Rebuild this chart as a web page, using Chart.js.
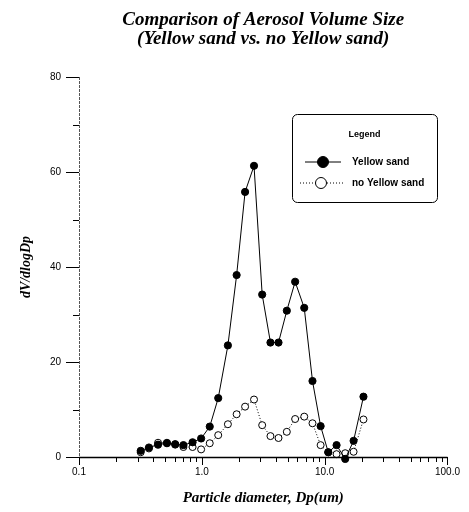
<!DOCTYPE html>
<html>
<head>
<meta charset="utf-8">
<script src="https://cdn.jsdelivr.net/npm/chart.js@4.4.1/dist/chart.umd.min.js"></script>
<style>
  html, body { margin: 0; padding: 0; background: #fff; }
  #wrap { width: 469px; height: 512px; }
</style>
</head>
<body>
<div id="wrap"><canvas id="aerosolChart" width="469" height="512"></canvas></div>
<script>
// Particle diameter (um) and dV/dlogDp
const diameters = [0.318, 0.371, 0.440, 0.520, 0.607, 0.708, 0.841, 0.987, 1.16, 1.36, 1.63, 1.92, 2.25, 2.66,
                   3.10, 3.62, 4.21, 4.92, 5.75, 6.82, 7.96, 9.27, 10.7, 12.5, 14.7, 17.2, 20.7];
const yellowSand = [1.3, 2.0, 2.6, 2.9, 2.7, 2.5, 3.1, 3.9, 6.4, 12.4, 23.5, 38.3, 55.8, 61.3,
                    34.2, 24.1, 24.1, 30.8, 36.9, 31.4, 16.0, 6.5, 1.0, 2.5, -0.4, 3.4, 12.7];
const noYellowSand = [1.0, 1.8, 3.0, 3.0, 2.6, 2.1, 2.1, 1.6, 2.9, 4.6, 6.9, 9.0, 10.6, 12.1,
                      6.7, 4.4, 4.0, 5.3, 8.0, 8.5, 7.1, 2.5, 1.0, 0.6, 0.8, 1.1, 7.9];
const yTicks = [0, 20, 40, 60, 80];
const yMinorTicks = [10, 30, 50, 70];
const xMajorTicks = [0.1, 1, 10, 100];
const xTickLabels = ['0.1', '1.0', '10.0', '100.0'];

const serif = '"Liberation Serif", "Times New Roman", serif';
const sans = '"Liberation Sans", Arial, sans-serif';

// ticks menores del eje log: 0.2..0.9, 2..9, 20..90
const xMinorTicks = [];
[0.1, 1, 10].forEach(d => { for (let k = 2; k <= 9; k++) xMinorTicks.push(+(d * k).toFixed(2)); });

// Ejes y marcas dibujados a mano (longitudes distintas)
const axisTicksPlugin = {
    id: 'axisTicks',
    afterDatasetsDraw(chart) {
        const {ctx, chartArea, scales} = chart;
        const xs = scales.x, ys = scales.y;
        ctx.save();
        ctx.strokeStyle = '#000';
        // eje x
        ctx.lineWidth = 1.5;
        ctx.beginPath();
        ctx.moveTo(chartArea.left, chartArea.bottom + 0.5);
        ctx.lineTo(chartArea.right, chartArea.bottom + 0.5);
        ctx.stroke();
        ctx.lineWidth = 1;
        xMajorTicks.forEach(v => {
            const px = Math.round(xs.getPixelForValue(v)) + 0.5;
            ctx.beginPath(); ctx.moveTo(px, chartArea.bottom); ctx.lineTo(px, chartArea.bottom + 8); ctx.stroke();
        });
        xMinorTicks.forEach(v => {
            const px = Math.round(xs.getPixelForValue(v)) + 0.5;
            ctx.beginPath(); ctx.moveTo(px, chartArea.bottom); ctx.lineTo(px, chartArea.bottom + 5); ctx.stroke();
        });
        // eje y (punteado, como en el escaneo)
        ctx.strokeStyle = '#555';
        ctx.setLineDash([3, 1]);
        ctx.beginPath();
        ctx.moveTo(chartArea.left + 0.5, chartArea.top);
        ctx.lineTo(chartArea.left + 0.5, chartArea.bottom);
        ctx.stroke();
        ctx.setLineDash([]);
        ctx.strokeStyle = '#000';
        yTicks.forEach(v => {
            const py = Math.round(ys.getPixelForValue(v)) + 0.5;
            ctx.beginPath(); ctx.moveTo(chartArea.left - 13, py); ctx.lineTo(chartArea.left, py); ctx.stroke();
        });
        yMinorTicks.forEach(v => {
            const py = Math.round(ys.getPixelForValue(v)) + 0.5;
            ctx.beginPath(); ctx.moveTo(chartArea.left - 6, py); ctx.lineTo(chartArea.left, py); ctx.stroke();
        });
        ctx.restore();
    }
};

// Leyenda con marco redondeado dentro del área
const boxLegendPlugin = {
    id: 'boxLegend',
    afterDraw(chart) {
        const {ctx} = chart;
        const x0 = 292, y0 = 114, x1 = 437, y1 = 202, r = 5;
        ctx.save();
        ctx.strokeStyle = '#000';
        ctx.lineWidth = 1;
        ctx.beginPath();
        ctx.roundRect(x0 + 0.5, y0 + 0.5, x1 - x0, y1 - y0, r);
        ctx.stroke();
        ctx.fillStyle = '#000';
        ctx.font = 'bold 9px ' + sans;
        ctx.textAlign = 'center';
        ctx.textBaseline = 'middle';
        ctx.fillText('Legend', (x0 + x1) / 2, 135);

        const rows = [
            {y: 162, lx0: 305, lx1: 341, cx: 323, ds: chart.data.datasets[0]},
            {y: 183, lx0: 300, lx1: 343, cx: 321, ds: chart.data.datasets[1]}
        ];
        rows.forEach(row => {
            ctx.strokeStyle = '#000';
            ctx.setLineDash(row.ds.borderDash || []);
            ctx.beginPath();
            ctx.moveTo(row.lx0, row.y); ctx.lineTo(row.lx1, row.y);
            ctx.stroke();
            ctx.setLineDash([]);
            ctx.beginPath();
            ctx.arc(row.cx, row.y, 5.5, 0, Math.PI * 2);
            ctx.fillStyle = row.ds.pointBackgroundColor;
            ctx.fill();
            ctx.stroke();
            ctx.fillStyle = '#000';
            ctx.font = 'bold 10px ' + sans;
            ctx.textAlign = 'left';
            ctx.fillText(row.ds.label, 352, row.y);
        });
        ctx.restore();
    }
};

const ctx = document.getElementById('aerosolChart').getContext('2d');

const aerosolChart = new Chart(ctx, {
    type: 'line',
    data: {
        datasets: [{
            label: 'Yellow sand',
            data: diameters.map((d, i) => ({x: d, y: yellowSand[i]})),
            borderColor: '#000',
            borderWidth: 1,
            pointBackgroundColor: '#000',
            pointBorderColor: '#000',
            pointRadius: 3.6,
            pointBorderWidth: 1,
            tension: 0,
            clip: false
        }, {
            label: 'no Yellow sand',
            data: diameters.map((d, i) => ({x: d, y: noYellowSand[i]})),
            borderColor: '#000',
            borderWidth: 1,
            borderDash: [1, 2],
            pointBackgroundColor: '#fff',
            pointBorderColor: '#000',
            pointRadius: 3.5,
            pointBorderWidth: 1,
            tension: 0,
            clip: false
        }]
    },
    options: {
        responsive: false,
        animation: false,
        layout: { padding: { left: 0, right: 16, top: 0, bottom: 0 } },
        plugins: {
            legend: { display: false },
            tooltip: { enabled: false },
            title: {
                display: true,
                fullSize: false,
                text: ['Comparison of Aerosol Volume Size', '(Yellow sand vs. no Yellow sand)'],
                color: '#000',
                font: { family: serif, size: 19, style: 'italic', weight: 'bold', lineHeight: 1.0 },
                padding: { top: 10.5, bottom: 28.5 }
            }
        },
        scales: {
            x: {
                type: 'logarithmic',
                min: 0.1,
                max: 100,
                afterBuildTicks(scale) {
                    scale.ticks = xMajorTicks.map(v => ({value: v}));
                },
                afterFit(scale) { scale.height = 55; },
                grid: { display: false, drawTicks: false },
                border: { display: false },
                ticks: {
                    color: '#000',
                    font: { family: sans, size: 10 },
                    padding: 9,
                    maxRotation: 0,
                    autoSkip: false,
                    callback: (v) => {
                        const i = xMajorTicks.indexOf(v);
                        return i >= 0 ? xTickLabels[i] : '';
                    }
                },
                title: {
                    display: true,
                    text: 'Particle diameter, Dp(um)',
                    color: '#000',
                    font: { family: serif, size: 15, style: 'italic', weight: 'bold' },
                    padding: { top: 0, bottom: 5 }
                }
            },
            y: {
                min: 0,
                max: 80,
                afterBuildTicks(scale) {
                    scale.ticks = yTicks.map(v => ({value: v}));
                },
                afterFit(scale) { scale.width = 79; },
                grid: { display: false, drawTicks: false },
                border: { display: false },
                ticks: {
                    color: '#000',
                    font: { family: sans, size: 10 },
                    padding: 18
                },
                title: {
                    display: true,
                    text: 'dV/dlogDp',
                    color: '#000',
                    font: { family: serif, size: 14, style: 'italic', weight: 'bold' },
                    padding: { top: 18, bottom: 0 }
                }
            }
        }
    },
    plugins: [axisTicksPlugin, boxLegendPlugin]
});
</script>
</body>
</html>
